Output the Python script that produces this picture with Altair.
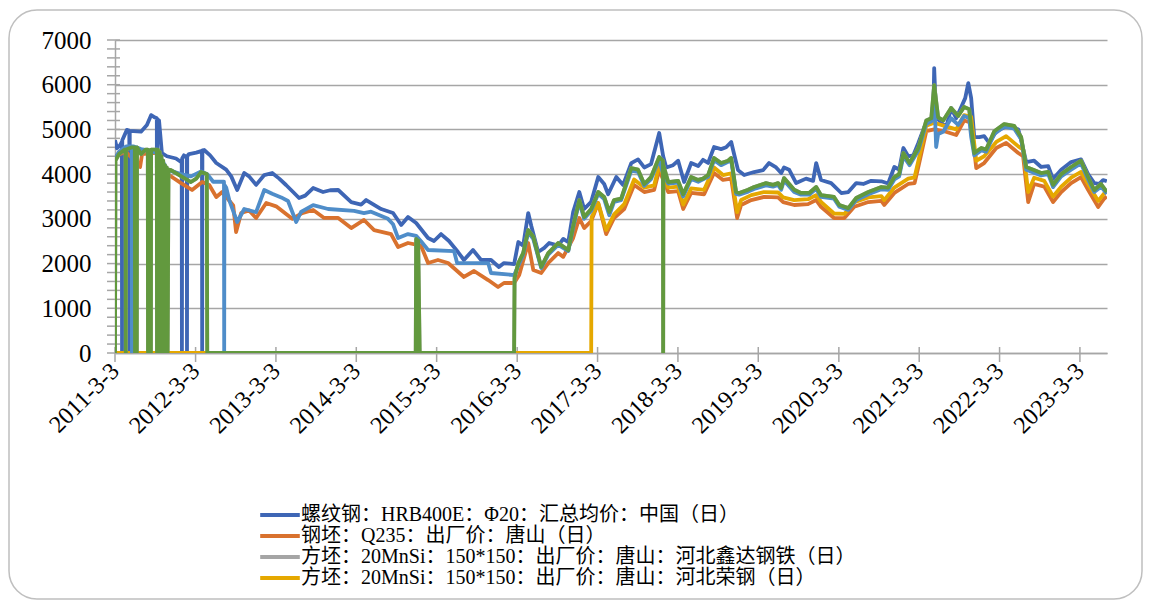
import altair as alt
import pandas as pd

SERIES = [
    "螺纹钢：HRB400E：Φ20：汇总均价：中国（日）",
    "钢坯：Q235：出厂价：唐山（日）",
    "方坯：20MnSi：150*150：出厂价：唐山：河北鑫达钢铁（日）",
    "方坯：20MnSi：150*150：出厂价：唐山：河北荣钢（日）",
    "方坯：Q235：150*150：出厂价：唐山（日）",
    "方坯：20MnSi：出厂价：唐山（日）",
]
COLORS = ["#3E66B5", "#D9722E", "#A5A5A5", "#E5A800", "#4F8DC9", "#62993E"]

X_TICKS = ["2011-03-03", "2012-03-03", "2013-03-03", "2014-03-03", "2015-03-03",
           "2016-03-03", "2017-03-03", "2018-03-03", "2019-03-03", "2020-03-03",
           "2021-03-03", "2022-03-03", "2023-03-03"]
Y_LABELS = [0, 1000, 2000, 3000, 4000, 5000, 6000, 7000]
Y_MINOR = [0, 200, 400, 600, 800, 1000, 1200, 1400, 1600, 1800, 2000, 2200, 2400, 2600,
           2800, 3000, 3200, 3400, 3600, 3800, 4000, 4200, 4400, 4600, 4800, 5000, 5200,
           5400, 5600, 5800, 6000, 6200, 6400, 6600, 6800, 7000]
X_DOMAIN = ["2011-03-03", "2023-07-04"]

BLUE = [
("2011-03-03",4760),("2011-03-12",4580),("2011-03-26",4650),("2011-04-03",4720),("2011-04-04",0),("2011-04-05",4760),
("2011-04-26",4990),("2011-05-07",4970),("2011-05-08",0),("2011-05-09",4970),
("2011-06-29",4950),("2011-07-26",5100),("2011-08-14",5320),("2011-08-27",5280),
("2011-09-09",5250),("2011-09-10",0),("2011-09-11",5230),("2011-09-19",5200),
("2011-10-02",4470),("2011-10-25",4400),("2011-12-05",4350),("2011-12-28",4270),
("2011-12-31",4300),("2012-01-01",0),("2012-01-02",4350),("2012-01-10",4420),
("2012-01-23",4380),("2012-01-24",0),("2012-01-25",4400),("2012-02-02",4450),
("2012-03-06",4480),("2012-04-01",4520),("2012-04-02",0),("2012-04-03",4530),("2012-04-11",4540),
("2012-05-08",4420),("2012-06-05",4250),("2012-07-20",4100),("2012-08-12",3950),("2012-09-08",3645),
("2012-10-10",4025),("2012-11-01",3950),("2012-12-03",3760),("2013-01-09",3980),("2013-02-14",4025),
("2013-03-18",3900),("2013-04-18",3757),("2013-05-20",3600),("2013-06-16",3466),("2013-07-14",3520),
("2013-08-19",3690),("2013-10-03",3600),("2013-11-04",3640),("2013-12-11",3645),("2014-02-08",3376),
("2014-03-25",3320),("2014-04-17",3421),("2014-06-24",3220),("2014-08-17",3130),("2014-09-23",2862),
("2014-10-24",3040),("2014-11-30",2907),("2015-01-23",2571),("2015-02-19",2505),("2015-03-23",2660),
("2015-04-28",2505),("2015-06-08",2258),("2015-07-05",2080),("2015-08-15",2303),("2015-09-21",2080),
("2015-11-05",2080),("2015-12-11",1923),("2016-01-03",2012),("2016-02-18",1990),("2016-03-08",2482),
("2016-03-30",2400),("2016-04-22",3130),("2016-05-06",2840),("2016-06-06",2258),("2016-07-04",2350),
("2016-07-26",2460),("2016-09-05",2400),("2016-09-28",2550),("2016-10-21",2480),("2016-11-12",3153),
("2016-12-10",3600),("2017-01-01",3220),("2017-02-02",3380),("2017-03-06",3935),("2017-04-02",3780),
("2017-04-20",3550),("2017-05-27",3935),("2017-06-27",3757),("2017-08-03",4248),("2017-09-03",4330),
("2017-10-01",4150),("2017-11-01",4225),("2017-12-08",4920),("2017-12-26",4400),("2018-01-09",4150),
("2018-02-09",4200),("2018-03-04",4300),("2018-03-31",3824),("2018-05-02",4248),("2018-06-03",4180),
("2018-06-25",4320),("2018-07-18",4250),("2018-08-14",4606),("2018-09-15",4560),("2018-10-08",4600),
("2018-10-31",4720),("2018-11-13",4450),("2018-12-01",4090),("2018-12-29",3980),("2019-02-12",4047),
("2019-03-25",4090),("2019-04-21",4248),("2019-05-23",4150),("2019-06-15",4025),("2019-06-28",4150),
("2019-07-21",4100),("2019-08-22",3800),("2019-10-06",3900),("2019-11-07",3850),("2019-11-21",4248),
("2019-12-13",3870),("2020-01-28",3800),("2020-03-14",3578),("2020-04-15",3600),("2020-05-21",3800),
("2020-06-22",3780),("2020-07-28",3850),("2020-09-12",3840),("2020-10-13",3790),("2020-11-10",4160),
("2020-12-02",4100),("2020-12-21",4584),("2021-01-12",4400),("2021-02-04",4420),("2021-02-27",4696),
("2021-03-26",5053),("2021-04-17",5200),("2021-05-06",5300),("2021-05-10",6373),("2021-05-19",5276),
("2021-06-11",5150),("2021-07-04",5053),("2021-07-26",5478),("2021-08-18",5250),("2021-09-10",5500),
("2021-09-28",5700),("2021-10-12",6037),("2021-10-25",5700),("2021-11-08",4830),("2021-12-01",4830),
("2021-12-23",4850),("2022-01-15",4700),("2022-02-16",4960),("2022-03-24",5050),("2022-04-25",5070),
("2022-05-27",5000),("2022-06-09",4763),("2022-07-02",4270),("2022-08-07",4300),("2022-09-08",4160),
("2022-10-10",4180),("2022-11-01",3890),("2022-12-08",4100),("2023-01-22",4270),("2023-03-08",4330),
("2023-04-09",4000),("2023-05-07",3800),("2023-05-29",3780),("2023-06-16",3868),("2023-07-03",3840),
]

ORANGE = [
("2011-03-03",4400),("2011-04-22",4500),("2011-06-25",4160),("2011-07-04",4450),("2011-09-19",4480),
("2011-10-02",4200),("2011-11-03",3980),("2011-12-28",3800),("2012-02-16",3645),("2012-04-02",3824),
("2012-05-04",3757),("2012-06-05",3488),("2012-07-02",3600),("2012-08-21",3300),("2012-09-03",2705),
("2012-09-26",3130),("2012-11-01",3190),("2012-12-03",3018),("2013-01-18",3354),("2013-03-04",3280),
("2013-05-16",3000),("2013-06-30",3130),("2013-08-19",3198),("2013-10-08",3020),("2013-12-11",3020),
("2014-02-08",2795),("2014-04-07",2975),("2014-05-23",2750),("2014-08-08",2660),("2014-09-09",2370),
("2014-10-24",2460),("2014-12-22",2400),("2015-01-23",2012),("2015-03-09",2080),("2015-04-24",2012),
("2015-07-05",1700),("2015-08-20",1834),("2015-10-23",1632),("2015-12-07",1476),("2016-01-03",1565),
("2016-02-18",1565),("2016-03-12",1744),("2016-04-22",2460),("2016-05-15",1856),("2016-06-20",1789),
("2016-07-22",2012),("2016-09-05",2235),("2016-09-28",2150),("2016-11-12",2571),("2016-12-10",3020),
("2017-01-01",2795),("2017-02-02",2950),("2017-03-06",3354),("2017-04-11",2660),("2017-05-17",3020),
("2017-07-02",3220),("2017-08-16",3757),("2017-10-01",3600),("2017-11-15",3650),("2017-12-08",4090),
("2018-01-18",3600),("2018-03-04",3620),("2018-03-27",3220),("2018-05-02",3580),("2018-06-30",3550),
("2018-08-14",4025),("2018-09-24",3870),("2018-10-31",3900),("2018-11-27",3018),("2018-12-15",3310),
("2019-01-30",3420),("2019-03-29",3490),("2019-06-01",3480),("2019-06-24",3376),("2019-08-13",3310),
("2019-10-15",3330),("2019-11-21",3420),("2019-12-13",3270),("2020-02-10",3018),("2020-03-28",3018),
("2020-05-12",3270),("2020-07-15",3376),("2020-09-12",3400),("2020-09-25",3310),("2020-11-10",3580),
("2021-01-12",3780),("2021-02-10",3800),("2021-03-03",4248),("2021-04-04",4960),("2021-05-10",5000),
("2021-06-25",4960),("2021-08-18",4875),("2021-09-23",5200),("2021-10-25",5150),("2021-11-17",4136),
("2021-12-23",4248),("2022-02-16",4584),("2022-04-02",4700),("2022-05-27",4472),("2022-06-18",4400),
("2022-07-11",3376),("2022-08-07",3780),("2022-09-22",3720),("2022-11-01",3376),("2022-12-08",3600),
("2023-01-22",3800),("2023-03-08",3935),("2023-04-09",3650),("2023-05-25",3265),("2023-06-21",3450),
("2023-07-03",3500),
]

YELLOW = [
("2011-03-03",0),("2017-02-02",0),("2017-02-04",3040),("2017-03-06",3350),("2017-04-11",2750),
("2017-05-17",3100),("2017-07-02",3330),("2017-08-16",3880),("2017-10-01",3700),("2017-11-15",3750),
("2017-12-08",4200),("2018-01-18",3700),("2018-03-04",3720),("2018-03-27",3320),("2018-05-02",3680),
("2018-06-30",3650),("2018-08-14",4150),("2018-09-24",3980),("2018-10-31",4020),("2018-11-27",3150),
("2018-12-15",3420),("2019-01-30",3530),("2019-03-29",3600),("2019-06-01",3590),("2019-06-24",3480),
("2019-08-13",3420),("2019-10-15",3440),("2019-11-21",3530),("2019-12-13",3380),("2020-02-10",3120),
("2020-03-28",3110),("2020-05-12",3370),("2020-07-15",3480),("2020-09-12",3510),("2020-09-25",3420),
("2020-11-10",3700),("2021-01-12",3900),("2021-02-10",3930),("2021-03-03",4380),("2021-04-04",5080),
("2021-05-10",5150),("2021-06-25",5080),("2021-08-18",5000),("2021-09-23",5320),("2021-10-25",5280),
("2021-11-17",4300),("2021-12-23",4400),("2022-02-16",4720),("2022-04-02",4850),("2022-05-27",4620),
("2022-06-18",4550),("2022-07-11",3600),("2022-08-07",3920),("2022-09-22",3850),("2022-11-01",3500),
("2022-12-08",3720),("2023-01-22",3920),("2023-03-08",4050),("2023-04-09",3780),("2023-05-25",3400),
("2023-06-21",3570),("2023-07-03",3620),
]

LIGHTBLUE = [
("2011-03-03",4350),("2011-03-21",4500),("2011-04-22",4620),("2011-05-18",4620),("2011-05-19",0),
("2011-05-20",4620),("2011-05-28",4620),("2011-06-29",4560),("2011-08-14",4520),("2011-09-19",4450),
("2011-10-25",4100),("2011-12-28",4000),("2012-02-11",3950),("2012-03-28",4060),("2012-04-25",4000),
("2012-05-22",3830),("2012-07-10",3830),("2012-07-11",0),("2012-07-12",3760),("2012-07-20",3700),
("2012-08-03",3421),("2012-09-08",2930),("2012-10-10",3220),("2012-12-03",3150),("2013-01-09",3645),
("2013-02-14",3560),("2013-03-27",3480),("2013-04-27",3400),("2013-06-03",2930),("2013-06-25",3153),
("2013-08-19",3309),("2013-10-26",3220),("2014-02-21",3180),("2014-04-07",3130),("2014-05-09",3160),
("2014-07-25",3000),("2014-08-17",2880),("2014-09-09",2571),("2014-10-24",2660),("2014-11-30",2620),
("2014-12-22",2500),("2015-01-23",2303),("2015-05-21",2280),("2015-06-04",2012),("2015-10-23",2012),
("2015-11-05",1789),("2016-02-18",1744),("2016-03-08",1950),("2016-03-30",2200),("2016-04-22",2700),
("2016-05-15",2550),("2016-06-20",1900),("2016-07-22",2200),("2016-09-05",2420),("2016-10-21",2280),
("2016-11-12",2800),("2016-12-10",3380),("2017-01-01",3000),("2017-02-02",3180),("2017-03-06",3560),
("2017-04-02",3440),("2017-04-25",3080),("2017-05-17",3380),("2017-06-18",3420),("2017-08-03",4080),
("2017-09-03",4050),("2017-10-01",3740),("2017-11-01",3890),("2017-12-08",4330),("2017-12-26",4000),
("2018-01-18",3790),("2018-03-04",3810),("2018-03-27",3500),("2018-05-02",3890),("2018-06-03",3830),
("2018-07-18",3940),("2018-08-14",4310),("2018-09-15",4200),("2018-10-31",4310),("2018-11-22",3560),
("2018-12-06",3540),("2019-01-16",3610),("2019-02-12",3670),("2019-04-07",3750),("2019-05-09",3720),
("2019-06-01",3760),("2019-06-15",3650),("2019-06-28",3860),("2019-08-13",3600),("2019-09-13",3540),
("2019-10-20",3540),("2019-11-21",3670),("2019-12-13",3490),("2020-02-10",3450),("2020-03-05",3270),
("2020-04-15",3200),("2020-05-21",3420),("2020-07-15",3550),("2020-09-12",3660),("2020-10-13",3650),
("2020-11-10",3880),("2020-12-02",3950),("2020-12-21",4400),("2021-01-18",4200),("2021-02-27",4530),
("2021-04-04",5120),("2021-04-27",5180),("2021-05-10",5800),("2021-05-19",4606),("2021-05-28",4900),
("2021-06-20",4950),("2021-07-26",5250),("2021-08-27",5100),("2021-09-23",5300),("2021-10-16",5250),
("2021-10-25",4830),("2021-11-08",4420),("2021-12-10",4530),("2022-01-01",4500),("2022-02-07",4900),
("2022-03-24",5060),("2022-05-08",5020),("2022-06-09",4780),("2022-07-02",4100),("2022-08-03",4040),
("2022-09-08",3970),("2022-10-10",4000),("2022-11-01",3710),("2022-12-08",3950),("2023-01-22",4100),
("2023-03-08",4240),("2023-04-09",3880),("2023-05-07",3600),("2023-06-07",3720),("2023-07-03",3560),
]

GREEN = [
("2011-03-03",0),("2011-03-05",4300),("2011-03-21",4450),("2011-04-17",4550),("2011-04-20",4550),
("2011-04-21",0),("2011-04-22",4550),("2011-05-20",4600),("2011-06-01",4600),("2011-06-02",0),
("2011-06-10",0),("2011-06-11",4600),("2011-06-29",4450),("2011-07-20",4550),("2011-07-30",4550),
("2011-07-31",0),("2011-08-13",0),("2011-08-14",4550),("2011-09-09",4550),("2011-09-10",0),
("2011-09-14",4550),("2011-09-18",0),("2011-09-22",4500),("2011-09-26",0),("2011-09-30",4400),
("2011-10-04",0),("2011-10-08",4300),("2011-10-12",0),("2011-10-16",4200),("2011-10-20",0),
("2011-10-24",4150),("2011-10-28",0),("2011-11-01",4100),("2011-11-12",4090),("2012-02-11",3824),
("2012-03-06",3900),("2012-03-28",4047),("2012-04-23",4000),("2012-04-25",0),
("2014-11-28",0),("2014-11-30",2550),("2014-12-05",0),("2014-12-09",2520),("2014-12-16",0),
("2016-02-18",0),("2016-02-20",1677),("2016-03-08",2012),("2016-03-30",2235),("2016-04-22",2750),
("2016-05-15",2600),("2016-06-20",1923),("2016-07-22",2235),("2016-09-05",2460),("2016-10-21",2300),
("2016-11-12",2840),("2016-12-10",3420),("2017-01-01",3040),("2017-02-02",3220),("2017-03-06",3600),
("2017-04-02",3490),("2017-04-25",3153),("2017-05-17",3420),("2017-06-18",3450),("2017-08-03",4136),
("2017-09-03",4100),("2017-10-01",3780),("2017-11-01",3935),("2017-12-08",4383),("2017-12-25",4300),
("2017-12-26",0),("2017-12-27",4200),("2018-01-18",3824),("2018-03-04",3850),("2018-03-27",3550),
("2018-05-02",3935),("2018-06-03",3870),("2018-06-25",3900),("2018-07-18",3980),("2018-08-14",4360),
("2018-09-15",4248),("2018-10-17",4300),("2018-10-31",4360),("2018-11-22",3600),("2018-12-06",3580),
("2019-01-16",3650),("2019-02-12",3712),("2019-04-07",3800),("2019-05-09",3760),("2019-06-01",3800),
("2019-06-15",3690),("2019-06-28",3912),("2019-08-13",3650),("2019-09-13",3580),("2019-10-20",3580),
("2019-11-21",3712),("2019-12-13",3530),("2020-02-10",3490),("2020-03-05",3310),("2020-04-15",3240),
("2020-05-21",3466),("2020-07-15",3600),("2020-09-12",3712),("2020-10-13",3700),("2020-11-10",3935),
("2020-12-02",4000),("2020-12-21",4472),("2021-01-18",4248),("2021-02-27",4584),("2021-04-04",5200),
("2021-04-27",5250),("2021-05-10",5990),("2021-05-28",5270),("2021-06-20",5200),("2021-07-26",5478),
("2021-08-27",5300),("2021-09-23",5500),("2021-10-16",5450),("2021-11-08",4472),("2021-12-10",4584),
("2022-01-01",4550),("2022-02-07",4960),("2022-03-24",5120),("2022-05-08",5080),("2022-06-09",4830),
("2022-07-02",4160),("2022-08-03",4100),("2022-09-08",4025),("2022-10-10",4050),("2022-11-01",3760),
("2022-12-08",4000),("2023-01-22",4160),("2023-03-08",4300),("2023-04-09",3935),("2023-05-07",3645),
("2023-06-07",3780),("2023-07-03",3600),
]

# the grey series is drawn underneath the green one and cannot be told apart from it
GREY = GREEN

SERIES_DATA = [BLUE, ORANGE, GREY, YELLOW, LIGHTBLUE, GREEN]

SERIF = "Liberation Serif, DejaVu Serif, serif"
LEGEND_FONT = "Liberation Serif, DejaVu Serif, Noto Sans CJK SC"
GRID = "#A6A6A6"

x_scale = alt.Scale(domain=[alt.DateTime(year=int(d[:4]), month=int(d[5:7]), date=int(d[8:]))
                            for d in X_DOMAIN], nice=False)
y_scale = alt.Scale(domain=[0, 7000], nice=False, zero=True)
color_scale = alt.Scale(domain=SERIES, range=COLORS)

x_axis = alt.Axis(
    values=[alt.DateTime(year=int(d[:4]), month=int(d[5:7]), date=int(d[8:])) for d in X_TICKS],
    format="%Y-%-m-%-d", labelAngle=-45, labelAlign="right", labelBaseline="middle",
    labelFont=SERIF, labelFontSize=24, labelColor="#000000", labelPadding=14,
    ticks=False, tickSize=0, grid=False, domain=True, domainColor=GRID, domainWidth=1.5,
    title=None, labelOverlap=False, labelFlush=False,
)
y_axis = alt.Axis(
    values=Y_LABELS, format="d", labelFont=SERIF, labelFontSize=25, labelColor="#000000",
    labelPadding=24, ticks=False, tickSize=0, grid=True, gridColor=GRID, gridWidth=1.5,
    domain=True, domainColor=GRID, domainWidth=1.5, title=None,
)

legend = alt.Legend(
    values=SERIES[:4], orient="none", legendX=154, legendY=464, direction="vertical",
    title=None, symbolType="M-2.2,0H2.2", symbolSize=324, symbolStrokeWidth=4,
    labelFont=LEGEND_FONT, labelFontSize=20, labelColor="#000000", labelLimit=800,
    labelOffset=10, rowPadding=0, padding=0,
)

frame = alt.Chart(pd.DataFrame({"k": [0]})).mark_rect(
    fill=None, stroke="#BFBFBF", strokeWidth=1.5, cornerRadius=28
).encode(x=alt.value(-106), x2=alt.value(1027), y=alt.value(-30), y2=alt.value(559))

layers = [frame]
for name, pts in zip(SERIES, SERIES_DATA):
    df = pd.DataFrame({"date": pd.to_datetime([p[0] for p in pts]),
                       "value": [p[1] for p in pts], "series": name})
    layers.append(
        alt.Chart(df).mark_line(strokeWidth=3.8, strokeJoin="round", clip=True).encode(
            x=alt.X("date:T", scale=x_scale, axis=x_axis),
            y=alt.Y("value:Q", scale=y_scale, axis=y_axis),
            color=alt.Color("series:N", scale=color_scale, legend=legend),
        )
    )

xt = pd.DataFrame({"date": pd.to_datetime(X_TICKS)})
x_ticks = alt.Chart(xt).mark_rule(color=GRID, strokeWidth=1.5).encode(
    x=alt.X("date:T", scale=x_scale, axis=x_axis), y=alt.value(307), y2=alt.value(322))
yt = pd.DataFrame({"value": Y_MINOR})
y_ticks = alt.Chart(yt).mark_rule(color=GRID, strokeWidth=1.5).encode(
    y=alt.Y("value:Q", scale=y_scale, axis=y_axis), x=alt.value(-8), x2=alt.value(5))

chart = alt.layer(*layers[:1], x_ticks, y_ticks, *layers[1:]).properties(
    width=992, height=313,
    padding={"left": 107, "top": 32, "right": 36, "bottom": 247},
    autosize=alt.AutoSizeParams(type="none"),
).configure_view(stroke=None).configure_axis(labelFont=SERIF).configure_legend(labelFont=LEGEND_FONT)

chart.save("out.html", embed_options={"renderer": "svg", "actions": False})
